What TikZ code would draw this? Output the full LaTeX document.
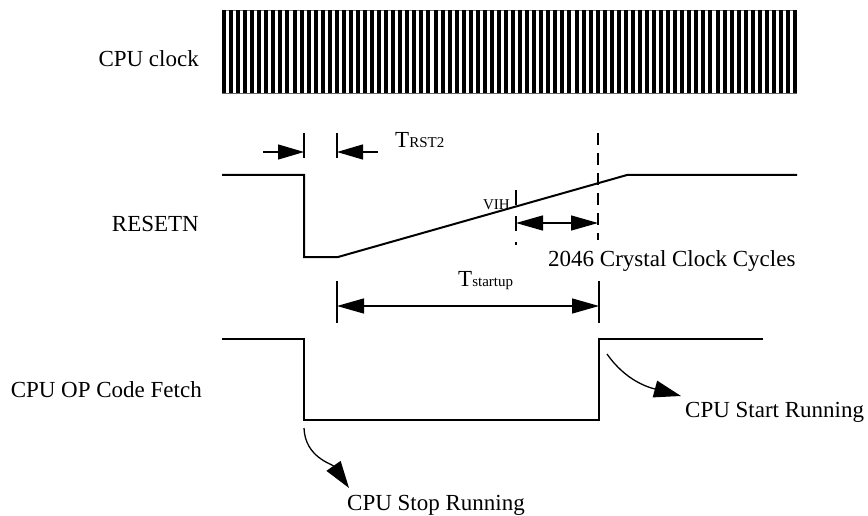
\documentclass[tikz,border=0pt]{standalone}
\usepackage{fontspec}
\setmainfont{Liberation Serif}
\usetikzlibrary{arrows.meta}

\begin{document}
\begin{tikzpicture}[x=1pt, y=-1pt,
        every node/.style={font=\fontsize{23}{27}\selectfont, inner sep=0pt},
        signal/.style={line width=2pt, line join=miter},
        tick/.style={line width=1.3pt},
        dimarrow/.style={line width=1.3pt, -{Triangle[length=26pt,width=15pt]}},
        bothdim/.style={line width=1.3pt, {Triangle[length=27pt,width=15pt]}-{Triangle[length=27pt,width=15pt]}},
        bendarrow/.style={line width=1.3pt, -{Triangle[length=27pt,width=17pt]}}]
      \useasboundingbox (0,0) rectangle (868,516);
      % signal names
      \node[anchor=base east] (clkname) at (199,67) {CPU clock};
      \node[anchor=base east] (rstname) at (199,231) {RESETN};
      \node[anchor=base east] (opname) at (202,397) {CPU OP Code Fetch};
      % CPU clock stripes
      \draw[line width=0.6pt, black!60] (222,10) -- (797,10) (222,93) -- (797,93);
      \foreach \i in {0,...,81}
        \fill (222+\i*7.05,10) rectangle ++(4,83);
      % RESETN waveform
      \coordinate (rstA) at (222,175);
      \coordinate (rstB) at (304,175);
      \coordinate (rstC) at (304,257);
      \coordinate (rstD) at (338,257);
      \coordinate (rstE) at (627,175);
      \coordinate (rstF) at (797,175);
      \draw[signal] (rstA) -- (rstB) -- (rstC) -- (rstD) -- (rstE) -- (rstF);
      % TRST2
      \coordinate (t2L) at (304,133);
      \coordinate (t2R) at (337,133);
      \draw[tick] (t2L) -- ++(0,25);
      \draw[tick] (t2R) -- ++(0,25);
      \draw[dimarrow] (263,152) -- (304,152);
      \draw[dimarrow] (378,152) -- (337,152);
      \node[anchor=base west] (trst) at (395,148) {T{\fontsize{15}{18}\selectfont RST2}};
      % VIH marker and 2046 cycles
      \coordinate (vihTop) at (516,190);
      \coordinate (vihBot) at (516,245);
      \draw[tick, dash pattern=on 15pt off 11pt] (vihTop) -- (vihBot);
      \node[anchor=base east, font=\fontsize{15}{18}\selectfont] (vih) at (510,210) {VIH};
      \coordinate (endTop) at (598,133);
      \coordinate (endBot) at (598,240);
      \draw[tick, dash pattern=on 12pt off 8pt] (endTop) -- (endBot);
      \draw[bothdim] (516,223) -- (598,223);
      \node[anchor=base west] (cycles) at (548,266) {2046 Crystal Clock Cycles};
      % Tstartup
      \draw[tick] (337,281) -- (337,323);
      \draw[tick] (599,281) -- (599,323);
      \draw[bothdim] (337,306) -- (599,306);
      \node[anchor=base west] (tstart) at (458,286) {T{\fontsize{15}{18}\selectfont startup}};
      % CPU OP Code Fetch waveform
      \coordinate (opA) at (222,339);
      \coordinate (opB) at (304,339);
      \coordinate (opC) at (304,420);
      \coordinate (opD) at (599,420);
      \coordinate (opE) at (599,339);
      \coordinate (opF) at (763,339);
      \draw[signal] (opA) -- (opB) -- (opC) -- (opD) -- (opE) -- (opF);
      % run / stop notes
      \node[anchor=base west] (startrun) at (685,417) {CPU Start Running};
      \node[anchor=base west] (stoprun) at (347,510) {CPU Stop Running};
      \coordinate (startFrom) at (607,354);
      \coordinate (startTip) at (681,396);
      \coordinate (stopFrom) at (304,428);
      \coordinate (stopTip) at (349,488);
      \draw[bendarrow] (startFrom) to[out=-55, in=165] (startTip);
      \draw[bendarrow] (stopFrom) to[out=-88, in=125] (stopTip);
    \end{tikzpicture}
\end{document}
